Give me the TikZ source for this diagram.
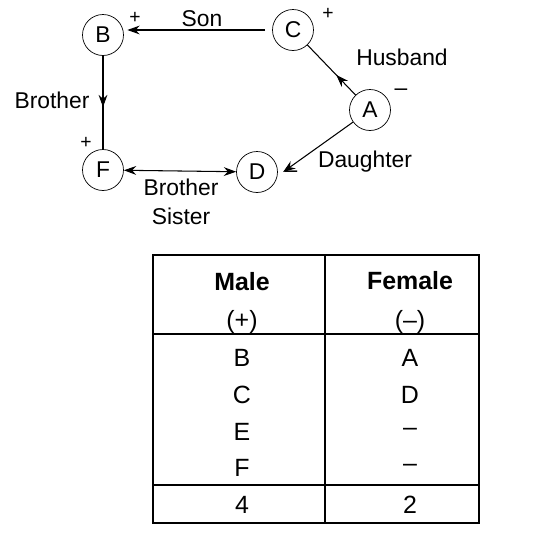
\documentclass[tikz,border=0pt]{standalone}
\usepackage{fontspec}
\setmainfont{Liberation Sans}
\usetikzlibrary{arrows.meta,decorations.markings}
\begin{document}
\begin{tikzpicture}[x=0.02cm, y=-0.02cm,
		every node/.style={font=\fontsize{13}{16.5}\selectfont},
		person/.style={draw, circle, minimum size=0.82cm, inner sep=0pt},
		sign/.style={font=\fontsize{11}{13}\selectfont},
		cell/.style={font=\fontsize{14.2}{17}\selectfont},
		rel/.style={semithick, -{Stealth[length=7pt,width=5pt]}},
		midarrow/.style={semithick, postaction={decorate}, decoration={markings,
			mark=at position #1 with {\arrow{Stealth[length=7pt,width=5pt]}}}}]
		\useasboundingbox (0,0) rectangle (552,538);
		% family graph
		\node[person] (B) at (103,35) {B};
		\node[person] (C) at (293,30) {C};
		\node[person] (A) at (370,110) {A};
		\node[person] (F) at (103,170) {F};
		\node[person] (D) at (257,172) {D};
		\draw[rel] ([xshift=-4pt]C.west) -- ([xshift=2pt]B.east |- C.west);
		\draw[midarrow=0.55] (B) -- (F);
		\draw[midarrow=0.4] (A) -- (C);
		\draw[rel] (A) -- ([xshift=3pt]D.east);
		\draw[semithick, {Stealth[length=7pt,width=5pt]}-{Stealth[length=7pt,width=5pt]}] (F) -- (D);
		\node (sonlbl) at (202,19) {Son};
		\node (husblbl) at (402,57) {Husband};
		\node (brolbl) at (52,100) {Brother};
		\node (dauglbl) at (365,162) {Daughter};
		\node[align=center] (sislbl) at (181,202) {Brother\\Sister};
		\node[sign] (Bsign) at (135,18) {+};
		\node[sign] (Csign) at (328,14) {+};
		\node (Asign) at (401,92) {–};
		\node[sign] (Fsign) at (86,143) {+};
		\node (Dsign) at (291,174) {–};
		% table
		\draw[semithick] (153,255) rectangle (479,523);
		\draw[semithick] (325,255) -- (325,523);
		\draw[semithick] (153,334) -- (479,334);
		\draw[semithick] (153,485) -- (479,485);
		\node[cell] (male) at (242,282) {\textbf{Male}};
		\node[cell] (female) at (410,281) {\textbf{Female}};
		\node[cell] (plus) at (242,322) {(+)};
		\node[cell] (minus) at (410,322) {(–)};
		\foreach \m/\f/\y in {B/A/358, C/D/395, E/–/432, F/–/468, 4/2/505} {
			\node[cell] (m\y) at (242,\y) {\m};
			\node[cell] (f\y) at (410,\y) {\f};
		}
	\end{tikzpicture}
\end{document}
